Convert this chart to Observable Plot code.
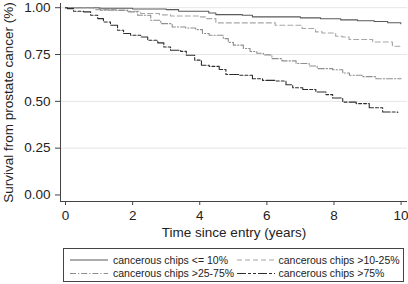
<!DOCTYPE html>
<html>
<head>
<meta charset="utf-8">
<script src="https://cdn.jsdelivr.net/npm/d3@7"></script>
<script src="https://cdn.jsdelivr.net/npm/@observablehq/plot@0.6"></script>
<style>
  html, body { margin: 0; padding: 0; background: #fff; }
  #chart { width: 408px; height: 284px; position: relative; font-family: "Liberation Sans", Arial, sans-serif; }
  #chart svg { display: block; }
</style>
</head>
<body>
<div id="chart"></div>
<script>
// ---- data ----
const groups = ["cancerous chips <= 10%", "cancerous chips >10-25%", "cancerous chips >25-75%", "cancerous chips >75%"];

const time1 = [0, 1.0, 2.0, 3.0, 3.37, 4.27, 4.48, 5.27, 5.57, 6.3, 7.0, 7.6, 8.2, 8.7, 9.2, 9.6, 9.99];
const surv1 = [1.0, 0.997, 0.993, 0.99, 0.981, 0.972, 0.963, 0.96, 0.951, 0.951, 0.946, 0.941, 0.935, 0.93, 0.926, 0.92, 0.915];

const time2 = [0, 0.84, 1.5, 1.85, 2.24, 2.8, 3.13, 3.97, 4.18, 4.48, 6.25, 7.05, 7.45, 7.65, 8.05, 8.25, 8.45, 9.15, 9.74, 9.99];
const surv2 = [1.0, 0.99, 0.985, 0.981, 0.969, 0.962, 0.956, 0.951, 0.942, 0.919, 0.906, 0.889, 0.871, 0.865, 0.848, 0.844, 0.83, 0.817, 0.794, 0.794];

const time3 = [0, 1.04, 1.85, 2.15, 2.54, 2.84, 3.18, 3.58, 3.88, 4.08, 4.28, 4.7, 4.85, 5.0, 5.3, 5.5, 5.7, 5.9, 6.15, 6.45, 6.87, 7.26, 7.5, 7.96, 8.26, 8.46, 8.86, 9.25, 10.0];
const surv3 = [1.0, 0.987, 0.978, 0.96, 0.933, 0.915, 0.897, 0.892, 0.883, 0.862, 0.853, 0.835, 0.815, 0.8, 0.782, 0.766, 0.757, 0.748, 0.728, 0.716, 0.702, 0.689, 0.675, 0.669, 0.651, 0.639, 0.632, 0.621, 0.621];

const time4 = [0, 0.06, 0.24, 0.54, 0.75, 0.96, 1.13, 1.34, 1.55, 1.73, 1.94, 2.24, 2.45, 2.75, 2.93, 3.13, 3.43, 3.6, 3.85, 4.05, 4.28, 4.58, 4.78, 5.17, 5.57, 5.87, 6.27, 6.57, 6.77, 7.07, 7.46, 7.76, 7.96, 8.26, 8.66, 9.05, 9.45, 9.9];
const surv4 = [1.0, 0.995, 0.981, 0.978, 0.96, 0.942, 0.924, 0.906, 0.88, 0.862, 0.853, 0.844, 0.826, 0.812, 0.79, 0.773, 0.767, 0.746, 0.72, 0.693, 0.687, 0.67, 0.643, 0.639, 0.621, 0.612, 0.609, 0.589, 0.573, 0.563, 0.55, 0.536, 0.518, 0.496, 0.488, 0.466, 0.443, 0.441];

const xTicks = [0, 2, 4, 6, 8, 10];
const yTicks = [0, 0.25, 0.5, 0.75, 1.0];
const yGrid = [0.25, 0.5, 0.75, 1.0];
const xTitle = "Time since entry (years)";
const yTitle = "Survival from prostate cancer (%)";

// ---- styles ----
const colors = ["#5a5a5a", "#a6a6a6", "#8e8e8e", "#2e2e2e"];
const dashes = [null, "5,3", "6,2,1.2,2", "9,2,3,2,3,2"];
const series = [[time1, surv1], [time2, surv2], [time3, surv3], [time4, surv4]];

const xDomain = [-0.149, 10.19];
const yDomain = [-0.0348, 1.0225];
const font = "'Liberation Sans', Arial, sans-serif";

const lineMarks = series.map(([t, s], i) => {
  const rows = t.map((tv, j) => ({t: tv, s: s[j]}));
  return Plot.line(rows, {
    x: "t", y: "s", curve: "step-after",
    stroke: colors[i], strokeWidth: 1.1,
    strokeDasharray: dashes[i] || undefined
  });
});

const plot = Plot.plot({
  width: 408,
  height: 246,
  marginLeft: 60,
  marginRight: 1,
  marginTop: 3,
  marginBottom: 45,
  style: {fontFamily: font, color: "#222", background: "white"},
  x: {domain: xDomain},
  y: {domain: yDomain},
  marks: [
    Plot.ruleY(yGrid, {stroke: "#e6e6e6", strokeWidth: 1}),
    ...lineMarks,
    Plot.ruleX([xDomain[0]], {stroke: "#444", strokeWidth: 1}),
    Plot.ruleY([yDomain[0]], {stroke: "#444", strokeWidth: 1}),
    Plot.axisY(yTicks, {tickSize: 5, tickPadding: 5, fontSize: 13.5, tickFormat: d3.format(".2f"), label: null, stroke: "#444"}),
    Plot.axisX(xTicks, {tickSize: 4, tickPadding: 5, fontSize: 13.5, tickFormat: d3.format("d"), label: null, stroke: "#444"}),
    Plot.text([xTitle], {frameAnchor: "bottom", dy: 35, fontSize: 13.5, fill: "#222"}),
    Plot.text([yTitle], {frameAnchor: "left", textAnchor: "middle", rotate: -90, dx: -52, fontSize: 13.5, fill: "#222"})
  ]
});

const chart = document.getElementById("chart");
chart.appendChild(plot);

// ---- legend (below the plot) ----
const leg = d3.select(chart).append("svg")
  .attr("width", 408).attr("height", 38)
  .style("display", "block")
  .style("font-family", font);
leg.append("rect")
  .attr("x", 63.5).attr("y", 2.5).attr("width", 340).attr("height", 33)
  .attr("fill", "white").attr("stroke", "#444").attr("stroke-width", 1);
const cols = [[70, 108, 113], [237, 275, 278.5]];
const rowsY = [14, 27.5];
groups.forEach((g, i) => {
  const c = cols[i % 2], y = rowsY[Math.floor(i / 2)];
  leg.append("line")
    .attr("x1", c[0]).attr("x2", c[1]).attr("y1", y).attr("y2", y)
    .attr("stroke", colors[i]).attr("stroke-width", 1.1)
    .attr("stroke-dasharray", dashes[i]);
  leg.append("text")
    .attr("x", c[2]).attr("y", y).attr("dy", "0.35em")
    .attr("font-size", 10.5).attr("fill", "#222")
    .text(g);
});
</script>
</body>
</html>
